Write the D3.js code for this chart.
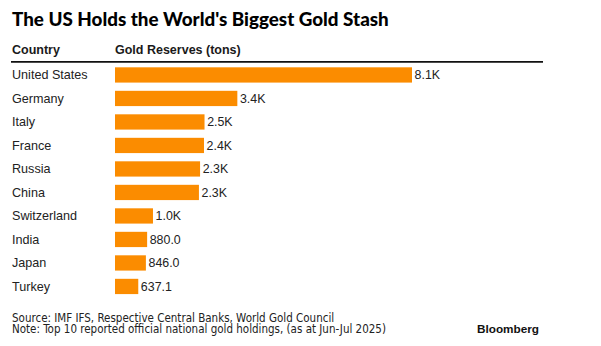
<!DOCTYPE html>
<html>
<head>
<meta charset="utf-8">
<script src="https://cdn.jsdelivr.net/npm/d3@7"></script>
<style>
  html, body { margin: 0; padding: 0; background: #fff; }
  svg { display: block; }
</style>
</head>
<body>
<svg id="chart"></svg>
<script>
const countries = ["United States", "Germany", "Italy", "France", "Russia", "China", "Switzerland", "India", "Japan", "Turkey"];
const reserves = [8133.5, 3350.3, 2451.8, 2437.0, 2329.6, 2298.5, 1040.0, 880.0, 846.0, 637.1];

const W = 601, H = 346;
const svg = d3.select("#chart").attr("width", W).attr("height", H);

const fmt = v => v >= 1000 ? (v / 1000).toFixed(1) + "K" : v.toFixed(1);

// shrink/grow font so text fills a given width
function fitWidth(sel, target) {
  const node = sel.node();
  const fs = parseFloat(sel.attr("font-size"));
  const w = node.getComputedTextLength();
  sel.attr("font-size", (fs * target / w).toFixed(2));
}

const x = d3.scaleLinear().domain([0, d3.max(reserves)]).range([115, 412]);
const y = d3.scaleBand().domain(countries).range([63.2, 298.2]).paddingInner(0.35).paddingOuter(0.175);

// title
svg.append("text")
  .attr("x", 12).attr("y", 26)
  .attr("font-family", "Lato, 'Liberation Sans', sans-serif")
  .attr("font-weight", 900)
  .attr("font-size", 17.5)
  .attr("fill", "#000")
  .text("The US Holds the World's Biggest Gold Stash")
  .call(s => fitWidth(s, 377));

// column headers
const head = svg.append("g")
  .attr("font-family", "'Liberation Sans', Arial, sans-serif")
  .attr("font-weight", "bold")
  .attr("font-size", 12.5)
  .attr("fill", "#1a1a1a");
head.append("text").attr("x", 12).attr("y", 54).text("Country");
head.append("text").attr("x", 115).attr("y", 54).text("Gold Reserves (tons)")
  .call(s => fitWidth(s, 122.5));

svg.append("line")
  .attr("x1", 11).attr("x2", 543)
  .attr("y1", 61.8).attr("y2", 61.8)
  .attr("stroke", "#111").attr("stroke-width", 1.8);

const rows = svg.append("g")
  .selectAll("g")
  .data(countries)
  .join("g");

rows.append("rect")
  .attr("x", x(0))
  .attr("y", d => y(d))
  .attr("width", (d, i) => x(reserves[i]) - x(0))
  .attr("height", y.bandwidth())
  .attr("fill", "#fb8c00");

rows.append("text")
  .attr("x", 12)
  .attr("y", d => y(d) + y.bandwidth() / 2)
  .attr("dy", "0.36em")
  .attr("font-family", "'Liberation Sans', Arial, sans-serif")
  .attr("font-size", 12.6)
  .attr("fill", "#222")
  .text(d => d);

rows.append("text")
  .attr("x", (d, i) => x(reserves[i]) + 2.6)
  .attr("y", d => y(d) + y.bandwidth() / 2)
  .attr("dy", "0.36em")
  .attr("font-family", "'Liberation Sans', Arial, sans-serif")
  .attr("font-size", 12.4)
  .attr("fill", "#222")
  .text((d, i) => fmt(reserves[i]));

// footer
const foot = svg.append("g")
  .attr("font-family", "'DejaVu Sans Condensed', 'Liberation Sans', sans-serif")
  .attr("font-size", 11.5)
  .attr("fill", "#222");
foot.append("text").attr("x", 12).attr("y", 322.3)
  .text("Source: IMF IFS, Respective Central Banks, World Gold Council")
  .call(s => fitWidth(s, 338));
foot.append("text").attr("x", 12).attr("y", 333.3)
  .text("Note: Top 10 reported official national gold holdings, (as at Jun-Jul 2025)")
  .call(s => fitWidth(s, 407));

svg.append("text")
  .attr("x", 477).attr("y", 333.3)
  .attr("font-family", "'Liberation Sans', Arial, sans-serif")
  .attr("font-weight", "bold")
  .attr("font-size", 12.5)
  .attr("fill", "#111")
  .text("Bloomberg")
  .call(s => fitWidth(s, 62));
</script>
</body>
</html>
